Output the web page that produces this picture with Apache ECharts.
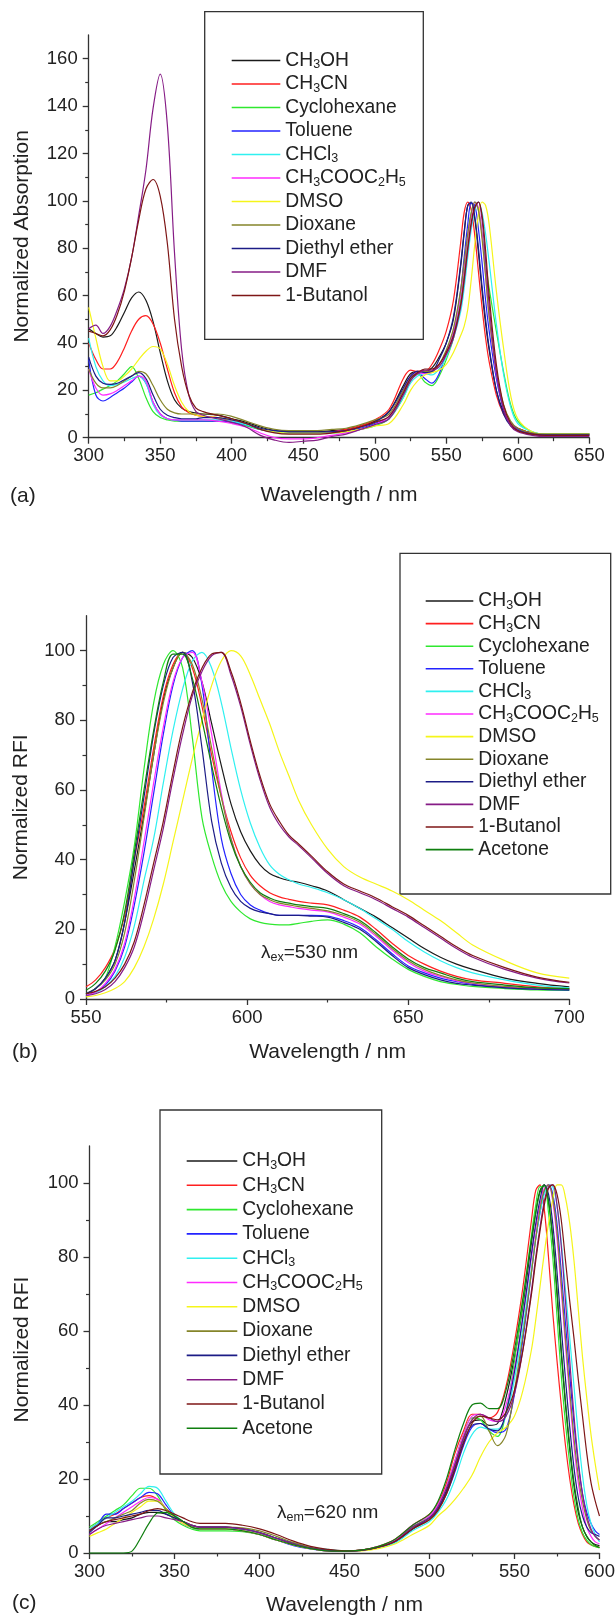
<!DOCTYPE html>
<html>
<head>
<meta charset="utf-8">
<script src="https://cdn.jsdelivr.net/npm/echarts@6/dist/echarts.min.js"></script>
<style>
html, body { margin: 0; padding: 0; background: #fff; }
#main { width: 616px; height: 1615px; }
</style>
</head>
<body>
<div id="main"></div>
<script>
// (a) absorption, wavelength grid
var wavelengthA = [300,305,310,315,320,325,330,335,340,345,350,355,360,365,370,375,380,390,400,410,420,430,440,450,460,470,480,490,500,
  510,520,525,530,535,540,545,550,555,560,562.5,565,567.5,570,572.5,575,577.5,580,585,590,595,600,610,620,635,650];
var absCH3OH = [46,44,42.5,43,47,53,59,61.5,58,49,36,24,16,12.5,11,10.5,10,9.5,8,6.5,4.5,3,2.5,2.5,2.5,3,3.5,5,7,
  11,22,27,28,28,29.5,34,40,50,72,86,98,99,92,78,62,48,37,20,11,6,4,2,1.5,1.5,1.5];
var absCH3CN = [40,33,29,29,32,38,45,50,51.5,48,40,29,19,13,10.5,9.5,9,8.5,7,5.5,3.5,2.5,2,2,2,2.5,3.5,5,7.5,
  12,25,28.5,28,28,31,37,45,58,82,95,99.5,96,85,70,55,42,32,18,10,6,4,2,1.5,1.5,1.5];
var absCyclohexane = [18,19,20.5,22,24,27,30,25,17,11,8.5,7.5,7,7,7,7,7,7,6.5,5,3.5,2.5,2,2,2,2,2.5,3.5,5,
  8,17,24,27,23.5,22,26,33,42,58,70,85,95,99.5,96,86,74,63,45,28,14,7,2.5,1.5,1.5,1.5];
var absToluene = [33,18,15.5,17,19,21,23.5,26,23,15,10,8,7.5,7,7,7,7,7,6.5,5.5,3.5,2.5,2,2,2,2.5,3,4,6,
  9,19,25,27.5,25,23,27,36,44,62,76,90,99,98,88,74,58,45,25,12,6,3.5,1.5,1,1,1];
var absCHCl3 = [42,30,24,22,22.5,23.5,25,26,23,14,9.5,8,7.5,7.5,7.5,7.5,7.5,7.5,7,5.5,3.5,2.5,2,2,2,2,2.5,3.5,5.5,
  8,17,23,26,27,26.5,29,34,42,53,63,76,88,96,99.5,95,86,74,48,27,13,6,2.5,1.5,1.5,1.5];
var absEtOAc = [29,21,18,18.5,20,22,24,26,24,15,10,8,7.5,7.5,7.5,7.5,7.5,7,6,4.5,2,0,-0.5,-0.5,0,1,2,3.5,5.5,
  9,20,26,27.5,27,27.5,31,36,45,60,72,85,94,99.5,97,86,69,51,27,13,6,3,1.5,1,1,1];
var absDMSO = [55,42,30,24,24,26,29,33,36.5,38.5,37.5,31,22,15,11,9.5,9,8.5,7.5,6,4,2.5,2,2,2,2,2.5,3.5,5,
  6,14,20,24,26.5,27.5,28.5,31,36,43,47,54,67,82,94,99.5,98,90,62,38,18,8,2.5,1.5,1.5,1.5];
var absDioxane = [29,23,21,21,22,24,26,28,27,22,16,12,10.5,10,10,10,10,10,9,7,5,3.5,3,3,3,3.5,4,5.5,7.5,
  10,20,25,27.5,28,28,31,37,46,62,74,86,95,99.5,96,84,68,51,28,14,7,4,2,1.5,1.5,1.5];
var absEther = [34,26,23,22.5,23,24.5,26,27.5,25,18,12,9.5,8.5,8,8,8,8.5,8.5,7.5,6,4,3,2.5,2.5,2.5,2.5,3,4.5,6.5,
  11,21,26,28,27.5,28,33,40,51,73,87,98,99.5,93,80,64,50,38,20,10,5,3,1.5,1.2,1.2,1.2];
var absDMF = [46,47.5,44,47,54,63,76,94,113,139,153.5,132,78,37,18,11,9.5,8,6.5,4.5,1,-1,-2,-1.5,-1,0.5,1.5,3.5,5.5,
  8,18,24,27,28.5,28.5,30,35,42,55,66,79,90,97,99.5,92,75,56,28,12,5,2.5,1,0.5,0.5,0.5];
var absButanol = [45,44,43,45.5,52,62,76,92,105,109,102,82,50,30,18,12.5,11,9.5,8,6,3.5,2,1.5,1.5,1.5,2,3,4.5,6.5,
  9,19,25,27.5,29,29,31,36,43,56,67,80,91,97.5,99.5,94,79,60,31,14,6,3,1.5,1,1,1];

// (b) emission, excited at 530 nm
var wavelengthB = [550,553,556,559,562,565,568,571,574,577,580,583,586,589,592,595,598,601,604,607,610,613,616,620,625,630,635,640,645,650,655,660,665,670,680,690,700];
var emCH3OH = [1.5,3,6,11,22,37,53,70,86,95,99.5,98,91,79,67,56,48,42.5,38.5,36,34.8,34,33.5,32.5,31,28.5,26,23.5,20.5,17.5,14.5,12,10,8.5,6,4.5,3.5];
var emCH3CN = [3.5,5.5,9,14.5,24,40,55,72,87,96,99.5,95,84,70,58,48,40.5,35.5,32.5,30.5,29.3,28.6,28,27.5,27,25.5,23.5,20,16,12.5,10,8,6.5,5.5,4.5,3.5,3];
var emCyclohexane = [1.5,3,6,15,28,44,66,85,96,100,95,75,52,41,33,28,25,23,22,21.5,21.3,21.3,21.7,22.3,22.7,21.5,19,15,11.5,8.5,6.5,5,4.2,3.6,3,2.6,2.5];
var emToluene = [1,2,4,8,15,27,42,59,76,90,98,100,90,66,46,36,30,27,25.5,24.5,24,24,24,24,23.8,22.5,20.5,17,13,9.5,7.5,6,5,4.2,3.3,2.8,2.6];
var emCHCl3 = [1,1.8,3.5,6.5,12,21,34,46,62,77,89,97,99.5,95,85,72,60,50.5,43.5,38.5,35.8,34.2,33,32,30.5,28.5,26,23,20,16.5,13.5,11,9,7.5,5.5,4,3.2];
var emEtOAc = [1,2,4.5,8.5,16,29,45,62,78,91,98,99.5,91,76,59,46,38,33,30,28,27,26.5,26,25.5,25,23.5,21.5,18,14,10.5,8,6.5,5.2,4.5,3.5,3,2.8];
var emDMSO = [0.6,1,1.8,3,5,9,15,23,33,45,57,69,80,90,97,100,98.5,93,86,79,71,64,57,50,43,38,35,33,31,28.5,25.5,22.5,19,15.5,11,7.5,6];
var emDioxane = [1.5,3,5.5,10,19,34,52,70,85,95,99.5,96,86,72,58,46,38,33,30,28.5,27.5,27,26.5,26,25.3,24,22,18.5,14.5,11,8.5,6.8,5.5,4.6,3.6,3.2,3];
var emEther = [1.5,3,6,11,22,40,58,76,90,98,99.5,91,72,51,39,32,28,26,25,24.5,24,24,24,23.8,23.5,22,20,16.5,12.5,9,7,5.5,4.5,4,3.2,2.8,2.6];
var emDMF = [1,1.5,2.7,5,9,15,25,37,49,63,76,87,94,98.5,99.5,93,84,73,63,55,50,46.5,44,40.5,36,32.5,30.5,28.5,26,23.5,20.5,17.5,14.5,12,8.5,6,4.6];
var emButanol = [1.5,2.2,3.5,6,10,16.5,27,39,51,65,78,88,95,99,99.5,94,85,74,64,56,51,47,44.5,41,36.5,33,31,29,26.5,24,21,18,15,12.5,9,6.3,4.8];
var emAcetone = [2.5,4.5,8,14,25,42,60,77,91,99,99,92,80,67,55,45,38,33.5,30.5,29,28,27.5,27,26.5,26,24.5,22.5,19,15,11.5,9,7.5,6,5,4,3.2,3];

// (c) excitation, monitored at 620 nm
var wavelengthC = [300,305,310,315,320,325,330,335,340,345,350,355,360,365,370,380,390,400,410,420,430,440,450,460,470,480,490,500,
  505,510,515,520,525,530,535,540,545,550,555,560,562.5,565,567.5,570,572.5,575,577.5,580,582.5,585,587.5,590,592.5,595,597.5,600];
var exCH3OH = [6,7.5,8.5,8.5,9,9.5,10.5,11,11,10.5,9.5,8.5,7.5,7,7,7,6.5,5.5,4,2.5,1.3,0.7,0.5,0.8,1.7,3.5,7,9.5,
  12,17,24,31,35.5,36,34.5,35,42,53,67,84,92,98,99.5,95,85,70,54,40,28,18,11,7,4.5,3,2.3,2];
var exCH3CN = [6.5,8,9.5,10.5,12,13.5,15,15.5,14.5,12,10,8.5,7,6.5,6.5,6.5,6,5,3.5,2.2,1.2,0.6,0.5,0.8,1.8,3.8,7.5,10.5,
  13.5,19,27,33,37.5,37.5,36.5,38,45,57,72,90,98,99.5,93,80,65,52,40,29,20,13,8,5,3,2.2,1.8,1.5];
var exCyclohexane = [7,8.5,10,11.5,13,15.5,17.5,17.5,15.5,11.5,9,7.5,6.5,6,6,6,5.8,5,3.5,2.2,1.2,0.6,0.5,0.8,1.7,3.5,7,10,
  13,18,25,32,36.5,36,33,31.5,38,52,68,86,94,99,99,92,80,64,48,35,24,15,9,5.5,3.5,2.3,1.7,1.4];
var exToluene = [6,8,10.5,10.5,12,13.5,15,16.4,16,13,10,8,7,6.5,6.5,6.5,6,5,3.5,2,1.1,0.6,0.5,0.7,1.5,3,6.5,9.5,
  12,16,22,29,34,35,33.5,32.5,33.5,43,58,76,85,92,97.5,99.5,97,89,76,62,48,35,24,16,11,8,6,5];
var exCHCl3 = [6.5,8,9.5,11,12.5,14,16,18,17.5,14,10.5,8.5,7,6.5,6.5,6.5,6.5,5.5,4,2.7,1.5,1,0.6,0.7,1.4,2.8,6,8.5,
  11,14.5,20,27,32,34,33.5,33.5,37,47,61,77,85,92,97,99.5,99,94,84,71,58,45,32,21,13,8,5,3];
var exEtOAc = [5,6.5,8,9.5,11,12.5,14,15,14.5,12,9.5,8,7,6.5,6.5,6.5,6,5,3.5,2.2,1.2,0.6,0.5,0.8,1.8,3.6,7.5,10,
  13,18,25,32,37,37.5,36,35.5,40,50,64,80,88,94,98.5,99.5,95,85,71,56,42,29,19,12,7,4.5,3,2.5];
var exDMSO = [4.5,5.5,6.5,8,9.5,11,12.5,14,14,12,9.5,8,7,6.5,6.5,6.5,6,5,3.5,2.2,1.2,0.6,0.4,0.6,1.2,2.5,5,7.5,
  10,12,14.5,17.5,21,26,30,32.5,34,37,44,55,63,72,81,89,95.5,99.5,99.5,96,89,79,66,53,42,32,24,17];
var exDioxane = [6,7.5,8.5,9.5,10.5,11.5,13.5,14.5,14,12,10,8.5,7.5,7,7,7,6.8,6,4.5,2.8,1.5,0.8,0.5,0.8,1.6,3.2,6.5,9,
  11.5,16,23,31,36,37,33,29,32,44,59,76,85,93,98,99.5,96,87,73,58,44,31,21,14,9,6,4.5,3.5];
var exEther = [5.5,7.5,9.5,9.5,10,10.5,11,11.5,11.5,10.5,9.5,8.5,7.5,7,7,7,6.5,5.5,4,2.5,1.3,0.7,0.5,0.7,1.6,3.2,6.5,9.5,
  12,16.5,23,30,34.5,35,33.5,33,38,49,64,81,89,95.5,99.5,97,89,76,61,47,34,23,15,10,7,5.5,5,4.5];
var exDMF = [5,6.5,7.5,8,8.5,9,9.5,10,10,9.5,9,8.5,7.5,7,7,7,6.5,5.5,4,2.5,1.3,0.6,0.4,0.7,1.6,3.3,7,9.5,
  12.5,17.5,24,31,36,37.5,36.5,35.5,37,43,55,71,80,88,95,99,99.5,94,83,68,52,37,25,16,10,6.5,4.5,3.5];
var exButanol = [6,7.5,8.5,9,9.5,10,10.5,11.5,12,11.5,10.5,9.5,8.5,8,8,8,7.5,6.5,5,3.2,1.8,1,0.6,0.8,1.6,3.2,6.5,9,
  11.5,16,22.5,29.5,35,37,36.5,36,38,44,55,70,79,87,94,98.5,99.5,97,90,79,68,58,47,37,27,19,14,10];
var exAcetone = [0,0,0,0,0,0.5,4,8,10.8,11,10,8.5,7,6.5,6.5,6.5,6,5,3.5,2.2,1.2,0.6,0.5,0.8,1.8,3.8,7.5,10.5,
  14,20,28,35,40,40.5,39,39,44,55,69,85,92,97.5,99.5,95,85,71,55,41,29,19,12,7,4.5,3,2,1.5];

var solvents = ['CH3OH','CH3CN','Cyclohexane','Toluene','CHCl3','CH3COOC2H5','DMSO','Dioxane','Diethyl ether','DMF','1-Butanol','Acetone'];
var colors = ['#1a1a1a','#ff1f1f','#2fe82f','#2323ff','#2ff0f0','#ff2bff','#f5f51a','#85852a','#1c1c86','#861c86','#7e1616','#0f7f0f'];
var absData = [absCH3OH, absCH3CN, absCyclohexane, absToluene, absCHCl3, absEtOAc, absDMSO, absDioxane, absEther, absDMF, absButanol];
var emData = [emCH3OH, emCH3CN, emCyclohexane, emToluene, emCHCl3, emEtOAc, emDMSO, emDioxane, emEther, emDMF, emButanol, emAcetone];
var exData = [exCH3OH, exCH3CN, exCyclohexane, exToluene, exCHCl3, exEtOAc, exDMSO, exDioxane, exEther, exDMF, exButanol, exAcetone];

var font = 'Liberation Sans, Arial, Helvetica, sans-serif';
var ink = '#222';
var labelNames = {
  'CH3OH': 'CH{s|3}OH', 'CH3CN': 'CH{s|3}CN', 'CHCl3': 'CHCl{s|3}',
  'CH3COOC2H5': 'CH{s|3}COOC{s|2}H{s|5}'
};

function pairs(xs, ys) {
  return xs.map(function (x, i) { return [x, ys[i]]; });
}

var series = [];
function addPanel(idx, xs, sets) {
  sets.forEach(function (ys, i) {
    series.push({
      type: 'line', name: solvents[i], xAxisIndex: idx, yAxisIndex: idx,
      data: pairs(xs, ys), symbol: 'none', smooth: 0.35, clip: false,
      lineStyle: { width: 1.2, color: colors[i] }, itemStyle: { color: colors[i] }
    });
  });
}
addPanel(0, wavelengthA, absData);
addPanel(1, wavelengthB, emData);
addPanel(2, wavelengthC, exData);

function xAx(idx, min, max, gap) {
  return {
    gridIndex: idx, type: 'value', min: min, max: max, interval: 50,
    name: 'Wavelength / nm', nameLocation: 'middle', nameGap: gap,
    nameTextStyle: { fontSize: 21, color: ink, fontFamily: font },
    axisLine: { lineStyle: { color: '#333', width: 1.3 } },
    axisTick: { length: 6, lineStyle: { color: '#333', width: 1.3 } },
    minorTick: { show: true, splitNumber: 2, length: 3.5, lineStyle: { color: '#333', width: 1.2 } },
    splitLine: { show: false },
    axisLabel: { fontSize: 18.5, color: ink, fontFamily: font, margin: 9 }
  };
}
function yAx(idx, max, name, gap) {
  var ticks = [];
  for (var v = 0; v < max; v += 20) ticks.push(v);
  return {
    gridIndex: idx, type: 'value', min: 0, max: max, interval: 20,
    name: name, nameLocation: 'middle', nameGap: gap,
    nameTextStyle: { fontSize: 21, color: ink, fontFamily: font },
    axisLine: { show: true, lineStyle: { color: '#333', width: 1.3 } },
    axisTick: { show: true, length: 6, customValues: ticks, lineStyle: { color: '#333', width: 1.3 } },
    minorTick: { show: true, splitNumber: 2, length: 3.5, lineStyle: { color: '#333', width: 1.2 } },
    splitLine: { show: false },
    axisLabel: { fontSize: 18.5, color: ink, fontFamily: font, margin: 11, customValues: ticks }
  };
}
function legendAt(names, left, top, width, gap) {
  return {
    data: names, orient: 'vertical', left: left, top: top,
    itemWidth: width, itemHeight: 1.6, itemGap: gap, icon: 'rect', selectedMode: false,
    formatter: function (n) { return labelNames[n] || n; },
    textStyle: {
      fontSize: 19.3, color: ink, fontFamily: font, lineHeight: 22,
      rich: { s: { fontSize: 12.5, lineHeight: 12, verticalAlign: 'bottom', color: ink, fontFamily: font } }
    }
  };
}
function box(x, y, w, h) {
  return { type: 'rect', shape: { x: x, y: y, width: w, height: h }, style: { fill: 'none', stroke: '#333', lineWidth: 1.3 }, silent: true };
}
function note(x, y, text) {
  return {
    type: 'text', x: x, y: y,
    style: {
      text: text, verticalAlign: 'middle', fill: ink, font: '21px ' + font,
      rich: {
        n: { fontSize: 19, fontFamily: font, fill: ink, lineHeight: 22 },
        s: { fontSize: 12.5, fontFamily: font, fill: ink, lineHeight: 12, verticalAlign: 'bottom' }
      }
    }
  };
}

var chart = echarts.init(document.getElementById('main'));
chart.setOption({
  animation: false,
  backgroundColor: '#fff',
  textStyle: { fontFamily: font },
  grid: [
    { left: 88.7, top: 35, width: 500.6, height: 402.7, outerBoundsMode: 'none' },
    { left: 86, top: 615.7, width: 483.3, height: 383.3, outerBoundsMode: 'none' },
    { left: 89.5, top: 1146, width: 510, height: 407, outerBoundsMode: 'none' }
  ],
  xAxis: [xAx(0, 300, 650, 47), xAx(1, 550, 700, 43), xAx(2, 300, 600, 42)],
  yAxis: [
    yAx(0, 170, 'Normalized Absorption', 56),
    yAx(1, 110, 'Normalized RFI', 54),
    yAx(2, 110, 'Normalized RFI', 57)
  ],
  legend: [
    legendAt(solvents.slice(0, 11), 226.7, 44.5, 48.6, 1.5),
    legendAt(solvents, 420.7, 585, 47.6, 0.6),
    legendAt(solvents, 181.7, 1145, 50.6, 2.3)
  ],
  graphic: [
    box(204.7, 11.7, 218.6, 327.6),
    box(400, 553.3, 210.7, 340.7),
    box(160, 1110, 221.7, 364),
    { type: 'text', x: 10, y: 496, style: { text: '(a)', verticalAlign: 'middle', fill: ink, font: '21px ' + font } },
    { type: 'text', x: 12, y: 1052, style: { text: '(b)', verticalAlign: 'middle', fill: ink, font: '21px ' + font } },
    { type: 'text', x: 12, y: 1603, style: { text: '(c)', verticalAlign: 'middle', fill: ink, font: '21px ' + font } },
    note(261, 953, '{n|λ}{s|ex}{n|=530 nm}'),
    note(277, 1513, '{n|λ}{s|em}{n|=620 nm}')
  ],
  series: series
});
</script>
</body>
</html>
